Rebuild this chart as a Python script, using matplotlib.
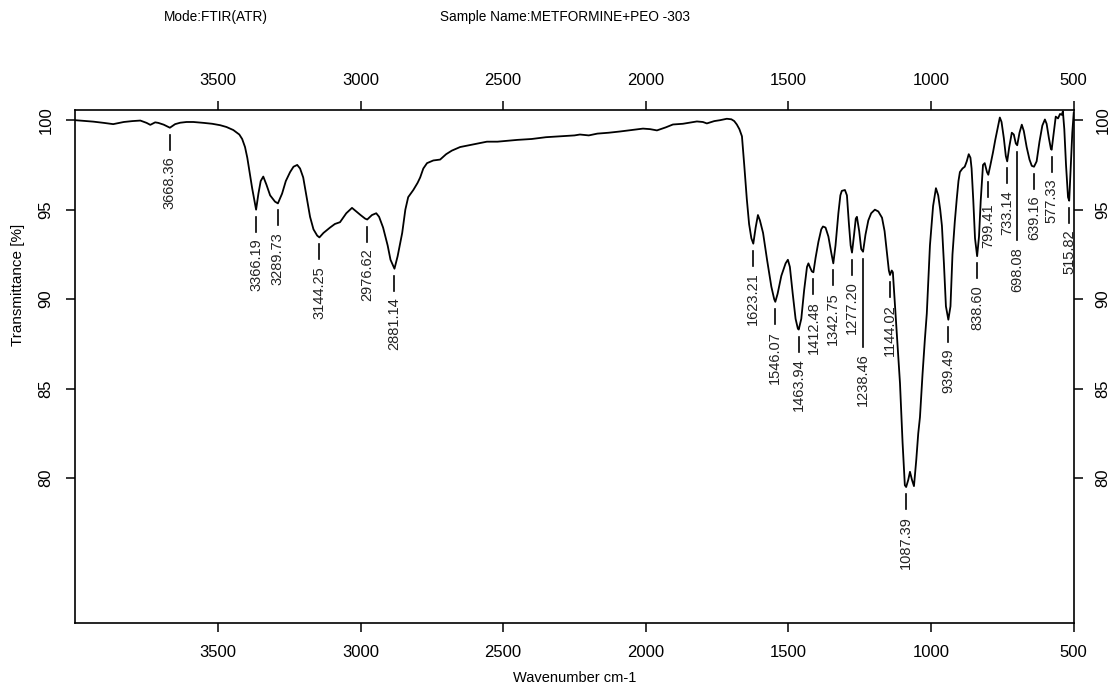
import numpy as np
import matplotlib
matplotlib.use('Agg')
import matplotlib.pyplot as plt
from matplotlib.transforms import blended_transform_factory, IdentityTransform
from matplotlib.lines import Line2D

plt.rcParams['font.family'] = ['Liberation Sans', 'DejaVu Sans']

# ---- spectrum (wavenumber cm-1, transmittance %) ----
wavenumber = [
    4000, 3960, 3937, 3900, 3867, 3830, 3800, 3772, 3750, 3737, 3720, 3709, 3690,
    3668.36, 3650, 3632, 3610, 3586, 3550, 3520, 3492, 3470, 3446, 3425, 3415,
    3405, 3397, 3388, 3380, 3372, 3366.19, 3358, 3350, 3341, 3330, 3317, 3300,
    3289.73, 3275, 3262, 3247, 3235, 3222, 3212, 3201, 3190, 3177, 3165, 3152,
    3144.25, 3130, 3107, 3090, 3072, 3050, 3030, 3015, 3000, 2984, 2976.62, 2960,
    2945, 2935, 2921, 2905, 2895, 2881.14, 2870, 2854, 2843, 2833, 2815, 2800,
    2791, 2780, 2767, 2745, 2721, 2700, 2680, 2651, 2620, 2590, 2557, 2520, 2483,
    2450, 2400, 2350, 2300, 2250, 2231, 2200, 2170, 2130, 2090, 2050, 2010, 1985,
    1961, 1930, 1905, 1870, 1840, 1821, 1800, 1786, 1760, 1740, 1716, 1700, 1690,
    1681, 1672, 1663, 1655, 1646, 1638, 1630, 1623.21, 1615, 1607, 1600, 1589,
    1575, 1560, 1550, 1546.07, 1538, 1525, 1510, 1502, 1495, 1485, 1475, 1467,
    1463.94, 1455, 1445, 1435, 1430, 1425, 1418, 1412.48, 1405, 1395, 1385, 1379,
    1370, 1360, 1350, 1342.75, 1335, 1325, 1318, 1313, 1302, 1295, 1288, 1282,
    1277.20, 1270, 1264, 1260, 1252, 1245, 1238.46, 1230, 1220, 1210, 1197, 1185,
    1172, 1163, 1155, 1148, 1144.02, 1138, 1134, 1128, 1120, 1109, 1100, 1092,
    1087.39, 1080, 1074, 1067, 1060, 1052, 1045, 1039, 1030, 1022, 1015, 1004,
    993, 983, 975, 968, 962, 955, 948, 939.49, 932, 925, 917, 910, 904, 899, 890,
    882, 875, 868, 862, 858, 852, 846, 838.60, 832, 826, 818, 812, 804, 799.41,
    792, 783, 775, 765, 759, 753, 745, 738, 733.14, 726, 717, 710, 703, 698.08,
    690, 682, 675, 665, 655, 647, 639.16, 630, 620, 610, 601, 595, 587, 580,
    577.33, 570, 563, 555, 548, 542, 538, 533, 527, 520, 515.82, 510, 505, 500,
]
transmittance = [
    100.0, 99.95, 99.92, 99.85, 99.78, 99.9, 99.95, 99.98, 99.85, 99.74, 99.88,
    99.85, 99.75, 99.58, 99.78, 99.86, 99.9, 99.9, 99.85, 99.8, 99.72, 99.62,
    99.45, 99.2, 98.95, 98.5, 97.9, 97.0, 96.2, 95.5, 95.0, 95.9, 96.6, 96.85,
    96.4, 95.8, 95.45, 95.35, 95.9, 96.6, 97.1, 97.4, 97.5, 97.3, 96.8, 95.8,
    94.6, 93.9, 93.55, 93.45, 93.7, 94.0, 94.2, 94.3, 94.8, 95.1, 94.9, 94.7,
    94.5, 94.45, 94.7, 94.8, 94.6, 94.0, 93.0, 92.2, 91.7, 92.4, 93.7, 95.0,
    95.7, 96.1, 96.5, 96.8, 97.3, 97.6, 97.75, 97.8, 98.1, 98.3, 98.5, 98.6,
    98.7, 98.8, 98.8, 98.85, 98.9, 98.95, 99.05, 99.1, 99.15, 99.2, 99.15, 99.25,
    99.3, 99.37, 99.45, 99.53, 99.5, 99.43, 99.6, 99.76, 99.8, 99.88, 99.93,
    99.9, 99.82, 99.95, 100.0, 100.08, 100.05, 99.95, 99.76, 99.5, 99.1, 97.5,
    95.6, 94.2, 93.4, 93.1, 94.0, 94.7, 94.4, 93.7, 92.2, 90.7, 90.0, 89.85,
    90.3, 91.3, 92.0, 92.2, 91.8, 90.3, 88.9, 88.35, 88.3, 88.9, 90.5, 91.8,
    92.0, 91.8, 91.55, 91.5, 92.3, 93.2, 93.9, 94.06, 94.0, 93.5, 92.6, 92.0,
    93.0, 94.8, 95.8, 96.05, 96.1, 95.8, 94.2, 93.0, 92.6, 93.6, 94.5, 94.6,
    93.8, 92.8, 92.65, 93.6, 94.4, 94.8, 95.0, 94.9, 94.55, 93.8, 92.6, 91.6,
    91.35, 91.6, 91.5, 90.0, 88.0, 85.3, 82.0, 79.6, 79.5, 79.9, 80.35, 79.9,
    79.55, 81.0, 82.5, 83.4, 85.8, 87.7, 89.2, 93.0, 95.2, 96.2, 95.8, 95.0,
    94.1, 92.0, 89.6, 88.85, 89.6, 92.5, 94.3, 95.6, 96.6, 97.1, 97.3, 97.4,
    97.7, 98.1, 97.9, 97.3, 95.5, 93.4, 92.4, 93.5, 95.5, 97.5, 97.6, 97.1,
    96.95, 97.5, 98.2, 98.9, 99.7, 100.15, 99.9, 99.0, 98.0, 97.7, 98.5, 99.3,
    99.2, 98.7, 98.6, 99.3, 99.75, 99.4, 98.5, 97.8, 97.45, 97.4, 97.7, 98.8,
    99.7, 100.04, 99.8, 99.0, 98.4, 98.35, 99.3, 100.2, 100.1, 100.35, 100.3,
    100.5, 99.5, 97.5, 95.7, 95.5, 97.5, 99.3, 100.4,
]

peak_positions = [3668.36, 3366.19, 3289.73, 3144.25, 2976.62, 2881.14,
                  1623.21, 1546.07, 1463.94, 1412.48, 1342.75, 1277.20,
                  1238.46, 1144.02, 1087.39, 939.49, 838.60, 799.41, 733.14,
                  698.08, 639.16, 577.33, 515.82]
peak_labels = [f"{p:.2f}" for p in peak_positions]

x_ticks = [3500, 3000, 2500, 2000, 1500, 1000, 500]
y_ticks = [80, 85, 90, 95, 100]

title_mode = "Mode:FTIR(ATR)"
title_sample = "Sample Name:METFORMINE+PEO -303"
x_label = "Wavenumber cm-1"
y_label = "Transmittance [%]"

# ---- figure ----
W, H = 1117, 693
fig = plt.figure(figsize=(W / 100, H / 100), dpi=100)
ax = fig.add_axes([75 / W, 70 / H, 999 / W, 513 / H])

ax.plot(wavenumber, transmittance, color='black', lw=1.3, zorder=3)
ax.set_xlim(4001, 499)
ax.set_ylim(71.9, 100.57)

ax.set_xticks(x_ticks)
ax.set_yticks(y_ticks)
for s in ax.spines.values():
    s.set_linewidth(1.2)
ax.tick_params(axis='both', which='both', direction='out', length=6.5,
               width=1.1, labelsize=12, top=True, labeltop=True,
               right=True, labelright=True, pad=9)
ax.tick_params(axis='y', labelrotation=90)
for t in ax.yaxis.get_major_ticks():
    t.label1.set_va('center')
    t.label2.set_va('center')

ax.set_xlabel(x_label, fontsize=10.5)
ax.xaxis.set_label_coords(0.5, -0.093)
ax.set_ylabel(y_label, fontsize=11)
ax.yaxis.set_label_coords(-0.05, 0.66)

fig.text(216 / W, 1 - 17 / H, title_mode, ha='center', va='center', fontsize=9.8)
fig.text(565 / W, 1 - 17 / H, title_sample, ha='center', va='center', fontsize=9.8)

# ---- peak labels ----
wn_asc = np.array(wavenumber)[::-1]
tr_asc = np.array(transmittance)[::-1]
long_lines = {1238.46: 95, 698.08: 95}
blend = blended_transform_factory(ax.transData, IdentityTransform())
fig.canvas.draw()
for p, lab in zip(peak_positions, peak_labels):
    yv = np.interp(p, wn_asc, tr_asc)
    ydisp = ax.transData.transform((p, yv))[1]
    top = ydisp - 7
    bot = ydisp - long_lines.get(p, 22)
    ln = Line2D([p, p], [top, bot], transform=blend, color='black', lw=1.2)
    ax.add_artist(ln)
    ln.set_clip_on(False)
    ax.text(p, bot - 7, lab, transform=blend, rotation=90, ha='center',
            va='top', fontsize=10.5, color='#222222')

fig.savefig('out.png', dpi=100)
